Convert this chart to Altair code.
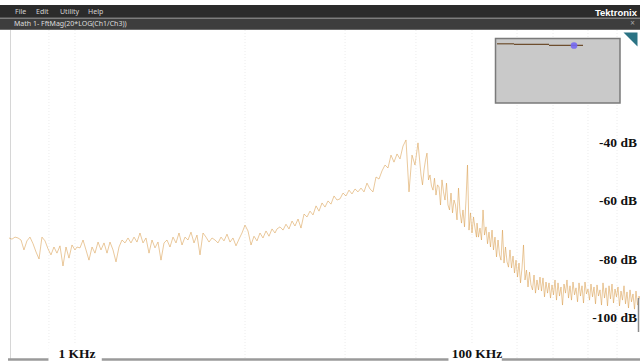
import altair as alt
import pandas as pd

# ---- FFT magnitude trace: Math 1 = 20*log10(Ch1/Ch3) -------------------
freq_khz = [
    0.457, 0.473, 0.490, 0.507, 0.525, 0.543, 0.562, 0.582, 0.603, 0.624,
    0.646, 0.668, 0.692, 0.716, 0.741, 0.767, 0.794, 0.822, 0.851, 0.881,
    0.912, 0.944, 0.977,
    1.000, 1.035, 1.072, 1.109, 1.148, 1.189, 1.230, 1.274, 1.318, 1.365,
    1.413, 1.462, 1.514, 1.567, 1.622, 1.679, 1.738, 1.799, 1.862, 1.928,
    1.995, 2.065, 2.138, 2.213, 2.291, 2.371, 2.455, 2.541, 2.630, 2.723,
    2.818, 2.917, 3.020, 3.126, 3.236, 3.350, 3.467, 3.589, 3.715, 3.846,
    3.981, 4.121, 4.266, 4.416, 4.571, 4.732, 4.898, 5.070, 5.248, 5.433,
    5.623, 5.821, 6.026, 6.237, 6.457, 6.683, 6.918, 7.161, 7.413, 7.674,
    7.943, 8.222, 8.511, 8.811, 9.120, 9.441, 9.772,
    10.00, 10.35, 10.72, 11.09, 11.48, 11.89, 12.30, 12.74, 13.18, 13.65,
    14.13, 14.62, 15.14, 15.67, 16.22, 16.79, 17.38, 17.99, 18.62, 19.28,
    19.95, 20.65, 21.38, 22.13, 22.91, 23.71, 24.55, 25.41, 26.30, 27.23,
    28.18, 29.17, 30.20, 31.26, 32.36, 33.50, 34.67, 35.89, 37.15, 38.46,
    39.81, 41.21, 42.66, 44.16, 45.71, 47.32, 48.98, 50.70,
    52.48, 53.40, 54.33, 55.27, 56.23, 57.21, 58.21, 59.22, 60.26, 61.30,
    62.37, 63.46, 64.57, 65.69, 66.83, 68.00, 69.18, 70.39, 71.61, 72.86,
    74.13, 75.42, 76.74, 78.07, 79.43, 80.82, 82.22, 83.66, 85.11, 86.60,
    88.11, 89.64, 91.20, 92.79, 94.41, 96.05, 97.72, 99.43,
    100.0, 101.7, 103.5, 105.3, 107.2, 109.0, 110.9, 112.9, 114.8, 116.8,
    118.9, 120.9, 123.0, 125.2, 127.4, 129.6, 131.8, 134.1, 136.5, 138.8,
    141.3, 143.7, 146.2, 148.8, 151.4, 154.0, 156.7, 159.4, 162.2, 165.0,
    167.9, 170.8, 173.8, 176.8, 179.9, 183.0, 186.2, 189.5, 192.8, 196.1,
    199.5, 203.0, 206.5, 210.1, 213.8, 217.5, 221.3, 225.2, 229.1, 233.1,
    237.1, 241.3, 245.5, 249.7, 254.1, 258.5, 263.0, 267.6, 272.3, 277.0,
    281.8, 286.8, 291.7, 296.8, 302.0, 307.3, 312.6, 318.1, 323.6, 329.2,
    335.0, 340.8, 346.7, 352.8, 358.9, 365.2, 371.5, 378.0, 384.6, 391.3,
    398.1, 405.0, 412.1, 419.3, 426.6, 434.0, 441.6, 449.3, 457.1, 465.1,
    473.2, 481.4, 489.8, 498.3, 507.0, 515.8, 524.8, 534.0, 543.3, 552.7,
    562.3, 572.1, 582.1, 592.2, 602.6, 613.0, 623.7, 634.6, 645.7, 656.9,
]

mag_db = [
    -72.9, -73.3, -72.6, -72.9, -73.6, -77.0, -73.9, -72.6, -74.9, -77.7,
    -80.1, -72.6, -73.9, -76.6, -78.7, -76.0, -78.1, -75.6, -82.5, -76.0,
    -79.8, -75.3, -77.0,
    -76.0, -76.3, -73.6, -77.0, -80.5, -76.0, -78.1, -74.3, -77.0, -74.6,
    -78.1, -74.3, -77.0, -81.1, -76.0, -73.6, -74.6, -72.9, -74.6, -72.6,
    -74.3, -71.2, -74.6, -72.9, -78.1, -73.6, -76.3, -74.3, -80.5, -74.6,
    -73.6, -76.0, -72.6, -74.6, -71.2, -75.3, -72.6, -73.6, -70.9, -74.6,
    -71.9, -78.7, -71.2, -72.6, -74.3, -72.9, -73.6, -74.6, -72.6, -73.9,
    -71.6, -74.3, -72.9, -75.6, -73.3, -71.2, -68.5, -70.5, -75.3, -72.3,
    -73.9, -71.2, -72.9, -70.5, -72.3, -69.8, -71.2,
    -69.8, -69.1, -70.2, -68.2, -69.8, -67.1, -68.8, -66.4, -69.5, -64.7,
    -65.7, -63.7, -65.0, -61.9, -63.7, -60.9, -62.3, -60.2, -61.3, -58.5,
    -59.9, -59.5, -57.5, -58.5, -56.5, -57.8, -56.1, -57.1, -55.8, -57.1,
    -54.1, -56.1, -57.1, -52.0, -52.7, -49.9, -47.9, -48.9, -44.5, -46.9,
    -44.1, -45.8, -41.4, -39.3, -57.1, -44.5, -47.9, -40.3,
    -51.3, -54.7, -49.6, -46.2, -43.8, -53.0, -51.3, -55.1, -56.5, -52.4,
    -58.2, -54.7, -55.4, -61.6, -53.0, -57.1, -59.9, -54.1, -61.6, -63.3,
    -57.5, -64.3, -59.9, -61.6, -66.7, -55.8, -64.0, -67.8, -63.3, -69.1,
    -59.9, -47.9, -70.2, -64.3, -71.2, -65.7, -69.5, -72.6,
    -67.8, -72.6, -69.5, -73.6, -63.3, -71.9, -69.1, -74.9, -70.9, -76.0,
    -70.2, -77.0, -72.6, -79.4, -73.6, -78.7, -80.5, -70.2, -81.5, -76.0,
    -81.1, -82.9, -77.0, -83.2, -79.1, -84.9, -80.5, -86.3, -81.5, -88.3,
    -83.2, -75.3, -87.3, -83.9, -89.7, -84.6, -89.0, -90.7, -85.6, -91.8,
    -87.3, -90.7, -86.3, -91.1, -86.6, -93.1, -88.0, -91.8, -88.3, -93.5,
    -89.0, -92.4, -87.3, -94.2, -88.3, -92.8, -89.7, -95.9, -88.7, -91.8,
    -87.3, -93.5, -89.3, -94.2, -88.0, -92.4, -90.0, -94.8, -88.3, -92.8,
    -89.3, -95.2, -88.0, -92.1, -90.4, -94.2, -88.7, -93.1, -89.7, -95.5,
    -89.0, -92.8, -90.7, -95.9, -88.3, -93.5, -90.0, -96.2, -89.3, -93.8,
    -88.7, -95.2, -90.4, -93.1, -89.7, -96.2, -91.1, -94.2, -89.3, -95.5,
    -91.4, -96.9, -90.7, -94.8, -92.1, -97.3, -91.1, -95.9, -92.8, -94.2,
]

# graticule lines and annotation labels
grid_khz = [0.724, 0.977, 6.92, 21.9, 49.5, 94.4, 158.5, 239.9, 358.9, 501.2]
db_ticks = [-40, -60, -80, -100]
db_labels = ["-40 dB", "-60 dB", "-80 dB", "-100 dB"]
freq_ticks = [1, 100]
freq_labels = ["1 KHz", "100 KHz"]
menu_items = ["File", "Edit", "Utility", "Help"]
math_title = "Math 1- FftMag(20*LOG(Ch1/Ch3))"

W, H = 640, 362
x_scale = alt.Scale(type="log", domain=[0.4121, 653.1], nice=False)
y_scale = alt.Scale(domain=[-115.42, 8.68], nice=False, zero=False)

trace_df = pd.DataFrame({"freq": freq_khz, "db": mag_db})
grid_df = pd.DataFrame({"f": grid_khz})
ylab_df = pd.DataFrame({"db": db_ticks, "label": db_labels})
xlab_df = pd.DataFrame({"f": freq_ticks, "label": freq_labels})
one = alt.Data(values=[{}])


def box(x0, x1, y0, y1, fill, stroke=None, sw=0):
    kw = dict(color=fill)
    if stroke:
        kw.update(stroke=stroke, strokeWidth=sw)
    return alt.Chart(one).mark_rect(**kw).encode(
        x=alt.value(x0), x2=alt.value(x1), y=alt.value(y0), y2=alt.value(y1))


def seg(x0, x1, y0, y1, color, sw=1, dash=None):
    kw = dict(color=color, strokeWidth=sw)
    if dash:
        kw["strokeDash"] = dash
    return alt.Chart(one).mark_rule(**kw).encode(
        x=alt.value(x0), x2=alt.value(x1), y=alt.value(y0), y2=alt.value(y1))


def label(txt, x, y, size, color, font="Noto Sans", weight="normal", align="left"):
    return alt.Chart(one).mark_text(
        text=txt, fontSize=size, color=color, font=font, fontWeight=weight,
        align=align, baseline="middle").encode(x=alt.value(x), y=alt.value(y))


# vertical graticule (very faint dotted lines)
grid = alt.Chart(grid_df).mark_rule(color="#ececec", strokeWidth=1, strokeDash=[1, 2]).encode(
    x=alt.X("f:Q", scale=x_scale, axis=None), y=alt.value(30), y2=alt.value(358))

left_border = seg(10.5, 10.5, 30, 359, "#d6d6d6")

trace = alt.Chart(trace_df).mark_line(
    color="#d99c4c", strokeWidth=1, opacity=0.55, clip=True).encode(
    x=alt.X("freq:Q", scale=x_scale, axis=None),
    y=alt.Y("db:Q", scale=y_scale, axis=None))

bottom_bar = seg(8, 640, 359.5, 359.5, "#9a9a9a", sw=2.5)
right_edge = seg(638.5, 638.5, 298, 332, "#8a8a8a", sw=1.5)

xlab_boxes = alt.Chart(xlab_df).transform_calculate(
    lo="datum.f * 0.72", hi="datum.f * 1.33").mark_rect(color="white").encode(
    x=alt.X("lo:Q", scale=x_scale, axis=None), x2="hi:Q",
    y=alt.value(345), y2=alt.value(362))

xlabs = alt.Chart(xlab_df).mark_text(
    font="Liberation Serif", fontWeight="bold", fontSize=13.5, color="#111",
    baseline="alphabetic", align="center").encode(
    x=alt.X("f:Q", scale=x_scale, axis=None), y=alt.value(357.5), text="label:N")

ylabs = alt.Chart(ylab_df).mark_text(
    font="Liberation Serif", fontWeight="bold", fontSize=13.5, color="#111",
    baseline="middle", align="right", dy=1).encode(
    x=alt.value(637), y=alt.Y("db:Q", scale=y_scale, axis=None), text="label:N")

# overview inset
inset = [
    box(495.5, 620, 38.5, 103, "#c9c9c9", "#7a7a7a", 1.5),
    seg(497, 514, 43.8, 43.8, "#6e4e2e", 1.2),
    seg(514, 549, 44.4, 44.4, "#6e4e2e", 1.2),
    seg(549, 583, 45.3, 45.3, "#6e4e2e", 1.2),
    alt.Chart(one).mark_point(filled=True, color="#7468f2", opacity=0.9, size=45).encode(
        x=alt.value(574), y=alt.value(45.5)),
]

corner = alt.Chart(one).mark_point(
    shape="M-1,-1L1,-1L1,1Z", filled=True, color="#2b7384", opacity=1, size=196).encode(
    x=alt.value(630.5), y=alt.value(39.5))

# application chrome
chrome = [
    box(0, 640, 5, 18, "#2b2b2b"),
    seg(0, 640, 18, 18, "#7a7a7a"),
    box(0, 640, 18.5, 29.5, "#3d3d3d"),
    seg(0, 640, 29.5, 29.5, "#6a6a6a"),
    label(math_title, 14, 24, 7, "#dedede"),
    label("Tektronix", 637, 12.5, 9.5, "#ffffff", font="Liberation Sans", weight="bold", align="right"),
    label("\u00d7", 632.5, 24, 8, "#a8a8a8", align="center"),
]
for name, xm in zip(menu_items, [15, 36, 60, 88]):
    chrome.append(label(name, xm, 11.5, 7, "#d4d4d4"))

chart = alt.layer(
    grid, left_border, trace, bottom_bar, right_edge, xlab_boxes, xlabs, ylabs,
    *inset, corner, *chrome,
).properties(
    width=W, height=H, padding=0, autosize=alt.AutoSizeParams(type="none"),
    background="white",
).configure_view(strokeWidth=0)

chart.save("out.html", embed_options={"renderer": "svg", "actions": False})
